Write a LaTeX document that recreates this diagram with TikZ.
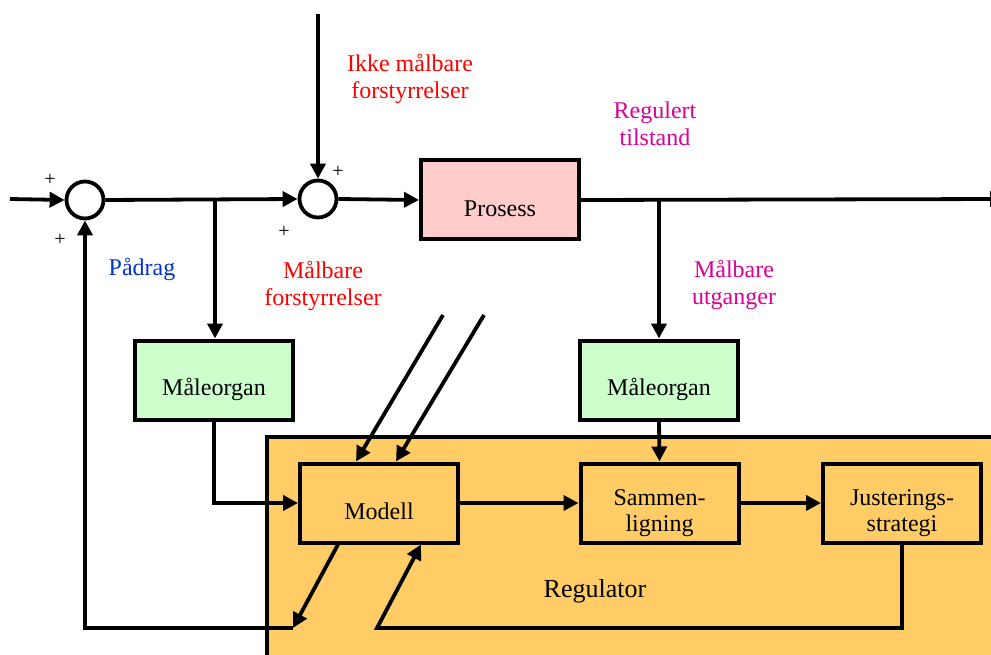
\documentclass[tikz,border=0pt]{standalone}
\usepackage{fontspec}
\setmainfont{Liberation Serif}
\usetikzlibrary{arrows.meta,calc}
\definecolor{procpink}{RGB}{255,204,204}
\definecolor{measgreen}{RGB}{204,255,204}
\definecolor{regorange}{RGB}{255,204,102}
\definecolor{lblred}{RGB}{255,0,0}
\definecolor{lblmag}{RGB}{220,0,150}
\definecolor{lblblue}{RGB}{0,51,204}
\newcommand\lowtext[2]{\raisebox{-#1}[0pt][0pt]{#2}}
\begin{document}
\begin{tikzpicture}[x=1pt,y=-1pt,
 conn/.style={line width=3.8pt},
 arr/.style={conn,-{Triangle[length=15pt,width=15pt]}},
 blockbox/.style={draw,line width=4pt,minimum width=158pt,minimum height=79pt,inner sep=0pt,font=\fontsize{24}{26}\selectfont,align=center},
 sumnode/.style={circle,draw,line width=3.8pt,minimum size=37pt,inner sep=0pt,fill=white},
 lbl/.style={font=\fontsize{24}{27}\selectfont,align=center},
 sign/.style={font=\fontsize{20}{20}\selectfont,inner sep=0pt}]
\useasboundingbox (0,0) rectangle (991,655);
\fill[white] (0,0) rectangle (991,655);
\clip (0,0) rectangle (991,655);

% regulator area
\node[draw,fill=regorange,line width=4pt,minimum width=760pt,minimum height=260pt,anchor=north west,inner sep=0pt] (reg) at (265,435) {};
\node[font=\fontsize{26}{28}\selectfont] (reglbl) at (595,591) {Regulator};

% nodes
\node[sumnode] (sum1) at (85,200) {};
\node[sumnode] (sum2) at (318,199) {};
\node[blockbox,fill=procpink] (proc) at (500,200) {\lowtext{17pt}{Prosess}};
\node[blockbox,fill=measgreen] (mo1) at (214,380) {\lowtext{15pt}{Måleorgan}};
\node[blockbox,fill=measgreen] (mo2) at (659,380) {\lowtext{15pt}{Måleorgan}};
\node[blockbox,fill=regorange] (modell) at (379,503) {\lowtext{16pt}{Modell}};
\node[blockbox,fill=regorange] (sam) at (659.5,503) {\lowtext{17pt}{\begin{tabular}{@{}c@{}}Sammen-\\ligning\end{tabular}}};
\node[blockbox,fill=regorange] (jus) at (902,503) {\lowtext{17pt}{\begin{tabular}{@{}c@{}}Justerings-\\strategi\end{tabular}}};

% coordinates
\coordinate (inL) at (10,199);
\coordinate (topin) at (318,14);
\coordinate (outR) at (1005,199);
\coordinate (b1) at (215,199);
\coordinate (b2) at (659,199);
\coordinate (fbL) at (293,628);
\coordinate (fbR) at (377,628);
\coordinate (mdB1) at ($(modell.south west)+(40,0)$);
\coordinate (mdB2) at ($(modell.south west)+(123,0)$);
\coordinate (d1s) at (443,315);
\coordinate (d2s) at (484,315);
\coordinate (d1e) at ($(modell.north west)+(58,0)$);
\coordinate (d2e) at ($(modell.north west)+(98,0)$);

% connectors
\draw[arr] (inL) -- (sum1.west);
\draw[arr] (sum1.east) -- (sum2.west);
\draw[arr] (topin) -- (sum2.north);
\draw[arr] (sum2.east) -- (proc.west);
\draw[arr] (proc.east) -- (outR);
\draw[arr] (b1) -- (b1 |- mo1.north);
\draw[arr] (b2) -- (b2 |- mo2.north);
\draw[arr] (mo1.south) |- (modell.west);
\draw[arr] (mo2.south) -- (sam.north);
\draw[arr] (modell.east) -- (sam.west);
\draw[arr] (sam.east) -- (jus.west);
\draw[arr] (jus.south) |- (fbR) -- (mdB2);
\draw[arr] (mdB1) -- (fbL);
\draw[arr] (fbL) -| (sum1.south);
\draw[arr] (d1s) -- (d1e);
\draw[arr] (d2s) -- (d2e);

% labels
\node[lbl,text=lblred] (l1) at (410,79) {Ikke målbare\\forstyrrelser};
\node[lbl,text=lblmag] (l2) at (655,124) {Regulert\\tilstand};
\node[lbl,text=lblblue] (l3) at (142,269) {Pådrag};
\node[lbl,text=lblred] (l4) at (323,286) {Målbare\\forstyrrelser};
\node[lbl,text=lblmag] (l5) at (734,285) {Målbare\\utganger};
\node[sign] (p1) at (50,180) {+};
\node[sign] (p2) at (60,240) {+};
\node[sign] (p3) at (338,172) {+};
\node[sign] (p4) at (284,232) {+};
\end{tikzpicture}
\end{document}
